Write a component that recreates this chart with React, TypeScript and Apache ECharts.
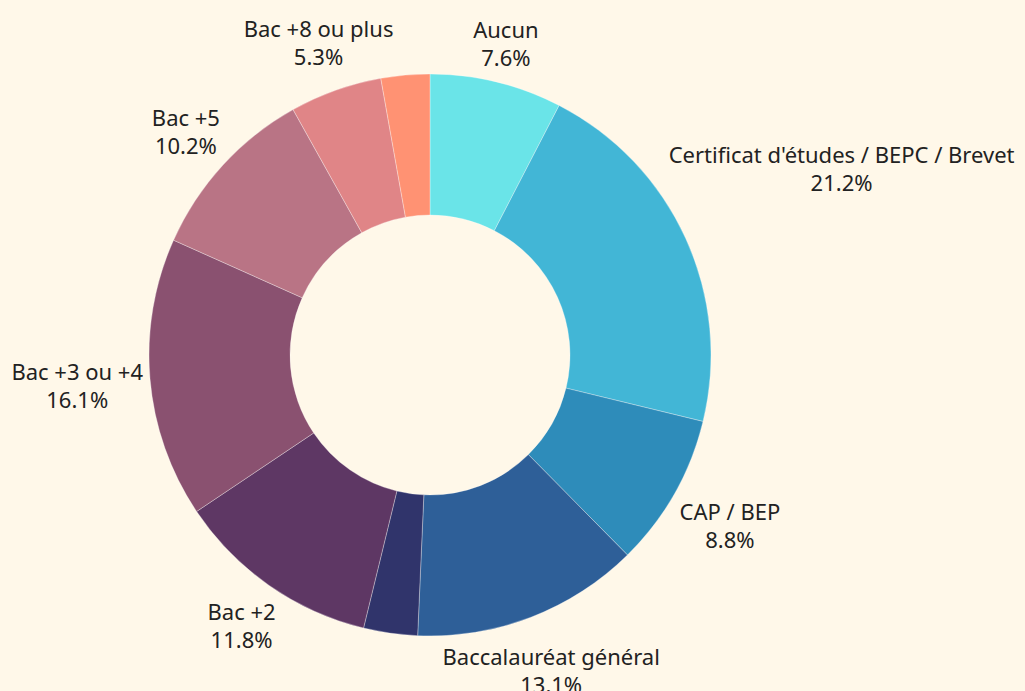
import React, { useEffect, useRef } from "react";
import * as echarts from "echarts";

const categories = [
  "Aucun",
  "Certificat d'études / BEPC / Brevet",
  "CAP / BEP",
  "Baccalauréat général",
  "Baccalauréat technologique ou professionnel",
  "Bac +2",
  "Bac +3 ou +4",
  "Bac +5",
  "Bac +8 ou plus",
  "Non renseigné",
];
const shares = [7.6, 21.2, 8.8, 13.1, 3.1, 11.8, 16.1, 10.2, 5.3, 2.8];
const labelHidden = [false, false, false, false, true, false, false, false, false, true];
const colors = [
  "#6ae4e8",
  "#42b6d6",
  "#2e8cba",
  "#2e5f98",
  "#30346b",
  "#5e3764",
  "#8a5170",
  "#b97485",
  "#e08587",
  "#ff9273",
];

const CX = 430;
const CY = 355;
const R_IN = 140;
const R_OUT = 281;
const LABEL_GAP_R = 287;

export default function App() {
  const ref = useRef<HTMLDivElement>(null);
  useEffect(() => {
    if (!ref.current) return;
    const chart = echarts.init(ref.current, undefined, { renderer: "svg" });
    const total = shares.reduce((a, b) => a + b, 0);
    const data = categories.map((name, i) => ({
      name,
      value: shares[i],
      itemStyle: { color: colors[i] },
      label: { show: !labelHidden[i] },
    }));
    chart.setOption({
      animation: false,
      backgroundColor: "#fff8e9",
      series: [
        {
          type: "pie",
          center: [CX, CY],
          radius: [R_IN, R_OUT],
          startAngle: 90,
          clockwise: true,
          avoidLabelOverlap: false,
          itemStyle: { borderColor: "rgba(255,255,255,0.45)", borderWidth: 0.7 },
          label: {
            show: true,
            position: "outside",
            fontFamily: "Noto Sans",
            fontSize: 22,
            lineHeight: 28,
            color: "#222",
            formatter: (p: any) => `${p.name}\n${Number(p.value).toFixed(1)}%`,
          },
          labelLine: { show: false },
          emphasis: { disabled: true },
          labelLayout: (p: any) => {
            const i = p.dataIndex;
            let cum = 0;
            for (let j = 0; j < i; j++) cum += shares[j];
            const mid = ((cum + shares[i] / 2) / total) * Math.PI * 2;
            const sx = Math.sin(mid);
            const sy = -Math.cos(mid);
            const w = p.labelRect.width / 2;
            const h = p.labelRect.height / 2;
            const dist = (R: number) => {
              const ax = Math.max(Math.abs(R * sx) - w, 0);
              const ay = Math.max(Math.abs(R * sy) - h, 0);
              return Math.sqrt(ax * ax + ay * ay);
            };
            let lo = 0;
            let hi = 900;
            for (let k = 0; k < 50; k++) {
              const m = (lo + hi) / 2;
              if (dist(m) >= LABEL_GAP_R) hi = m;
              else lo = m;
            }
            return {
              x: CX + hi * sx,
              y: CY + hi * sy,
              align: "center",
              verticalAlign: "middle",
            };
          },
          data,
        },
      ],
    });
    return () => chart.dispose();
  }, []);
  return (
    <div
      ref={ref}
      style={{ position: "absolute", left: 0, top: 0, width: 1025, height: 691 }}
    />
  );
}
